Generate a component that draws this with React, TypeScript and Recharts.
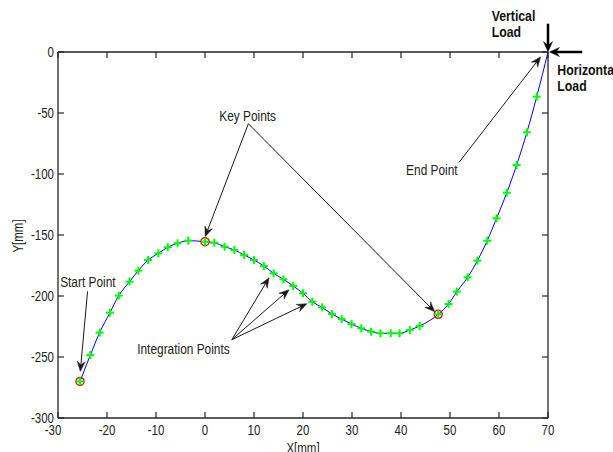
import React from "react";
import { ScatterChart, Scatter, XAxis, YAxis, ReferenceLine, ReferenceDot } from "recharts";

// curve nodes, in order along the beam (key points included)
const curveX = [
  -25.5, -23.4, -21.5, -19.4, -17.6, -15.4, -13.6, -11.6, -9.5, -7.6, -5.6, -3.4,
  0, 1.9, 4.0, 6.0, 8.0, 10.0, 12.0, 14.0, 16.0, 18.0, 20.0, 21.9, 23.9, 25.9,
  27.9, 29.9, 31.9, 33.9, 35.8, 37.9, 39.7, 41.8, 43.8, 47.6, 49.7, 51.4, 53.6,
  55.6, 57.6, 59.5, 61.6, 63.6, 65.7, 67.7, 70,
];
const curveY = [
  -270, -248.4, -230, -213.7, -199.7, -188.2, -179.2, -170.5, -165, -160, -156.8, -154.6,
  -155.5, -156.3, -159.6, -162.3, -166.4, -170.5, -175.4, -181.4, -186.3, -191.8, -197.8,
  -204.7, -209.3, -214.8, -218.9, -223, -226.5, -229.2, -230.6, -230.6, -230.6, -227.9,
  -224.6, -215, -206.6, -196.4, -184.7, -171, -154.7, -136.3, -115.3, -92.6, -65.8, -36.6, 0,
];
const keyX = [-25.5, 0, 47.6];
const keyY = [-270, -155.5, -215];

const xTicks = [-30, -20, -10, 0, 10, 20, 30, 40, 50, 60, 70];
const yTicks = [-300, -250, -200, -150, -100, -50, 0];

// annotation texts
const noteText = ["Key Points", "End Point", "Start Point", "Integration Points"];
const noteX = [8.7, 46.3, -23.9, -4.4];
const noteY = [-52.2, -96.5, -188.3, -243];

const loadText = ["Vertical", "Load", "Horizontal", "Load"];
const loadX = [58.5, 58.5, 71.9, 71.9];
const loadY = [29.8, 16.6, -14.5, -27.4];

// annotation arrows: [fromX, fromY, toX, toY]
const arrows = [
  [8.85, -58.8, 0.02, -151.4],
  [8.85, -58.8, 46.9, -212.9],
  [51.8, -90.7, 68.5, -3.9],
  [-23.97, -196.2, -25.45, -261.8],
  [5.47, -235.8, 13.07, -185],
  [5.47, -235.8, 17.15, -194.8],
  [5.47, -235.8, 20.8, -206.3],
];
const loadArrows = [
  [70, 23.2, 70, 0.3],
  [77, 0, 70.3, 0],
];

const curve = curveX.map((x, i) => ({ x, y: curveY[i] }));
const integ = curve.slice(0, -1);
const keys = keyX.map((x, i) => ({ x, y: keyY[i] }));

const AX = "#262626";
const FONT = "'Liberation Sans', Arial, sans-serif";
const SQ = 0.82; // horizontal squeeze, the figure's text is narrow

// text squeezed horizontally around its anchor
const NText = ({ x, y, anchor, size, bold, children, dy }: any) => (
  <text transform={`translate(${x},${y}) scale(${SQ},1)`} x={0} y={0} dy={dy}
    textAnchor={anchor} fontFamily={FONT} fontSize={size} fontWeight={bold ? "bold" : "normal"}
    fill={bold ? "#111" : "#222"}>
    {children}
  </text>
);

const Plus = (p: any) => (
  <g stroke="#00ff00" strokeWidth={2}>
    <line x1={p.cx - 4} y1={p.cy} x2={p.cx + 4} y2={p.cy} />
    <line x1={p.cx} y1={p.cy - 4} x2={p.cx} y2={p.cy + 4} />
  </g>
);

const Ring = (p: any) => (
  <circle cx={p.cx} cy={p.cy} r={4} fill="none" stroke="#ff0000" strokeWidth={1.5} />
);

const arrowShape = (w: number, len: number, half: number, color: string) => (p: any) => {
  const { x1, y1, x2, y2 } = p;
  const a = Math.atan2(y2 - y1, x2 - x1);
  const c = Math.cos(a), s = Math.sin(a);
  const bx = x2 - len * c, by = y2 - len * s;
  const mx = x2 - len * 0.65 * c, my = y2 - len * 0.65 * s;
  const pts = `${x2},${y2} ${bx - half * s},${by + half * c} ${mx},${my} ${bx + half * s},${by - half * c}`;
  return (
    <g>
      <line x1={x1} y1={y1} x2={mx} y2={my} stroke={color} strokeWidth={w} />
      <polygon points={pts} fill={color} stroke={color} strokeWidth={0.5} />
    </g>
  );
};

const BottomTick = ({ x, y, payload }: any) => (
  <g>
    <line x1={x} y1={y} x2={x} y2={y - 6} stroke={AX} strokeWidth={1.2} />
    <NText x={x + (payload.value === -30 ? -5 : 0)} y={y + 17} anchor="middle" size={14}>
      {payload.value}
    </NText>
  </g>
);
const TopTick = ({ x, y }: any) => (
  <line x1={x} y1={y} x2={x} y2={y + 6} stroke={AX} strokeWidth={1.2} />
);
const LeftTick = ({ x, y, payload }: any) => (
  <g>
    <line x1={x} y1={y} x2={x + 6} y2={y} stroke={AX} strokeWidth={1.2} />
    <NText x={x - 4} y={y + 5} anchor="end" size={14}>{payload.value}</NText>
  </g>
);
const RightTick = ({ x, y }: any) => (
  <line x1={x} y1={y} x2={x - 6} y2={y} stroke={AX} strokeWidth={1.2} />
);

const YLabel = (props: any) => {
  const vb = props.viewBox;
  const cx = vb.x + 18;
  const cy = vb.y + vb.height / 2 + 1;
  return (
    <text transform={`translate(${cx},${cy}) rotate(-90) scale(${SQ},1)`} x={0} y={0}
      textAnchor="middle" dy="0.35em" fontFamily={FONT} fontSize={14} fill="#222">Y[mm]</text>
  );
};
const XLabel = (props: any) => {
  const vb = props.viewBox;
  return (
    <NText x={vb.x + vb.width / 2} y={vb.y + 35} anchor="middle" size={14}>X[mm]</NText>
  );
};

export default function App() {
  return (
    <div style={{ position: "absolute", left: 0, top: 0, width: 613, height: 452, background: "#fff", overflow: "hidden" }}>
      <ScatterChart width={613} height={452} margin={{ top: 51, right: 64, left: 0, bottom: 0 }}>
        <XAxis type="number" dataKey="x" domain={[-30, 70]} ticks={xTicks} interval={0}
          tickSize={0} tickMargin={0} height={34} allowDataOverflow
          axisLine={{ stroke: AX, strokeWidth: 1.3 }} tick={BottomTick} label={XLabel} />
        <XAxis xAxisId="top" orientation="top" type="number" dataKey="x" domain={[-30, 70]}
          ticks={xTicks} interval={0} tickSize={0} tickMargin={0} height={1} allowDataOverflow
          axisLine={{ stroke: AX, strokeWidth: 1.3 }} tick={TopTick} />
        <YAxis type="number" dataKey="y" domain={[-300, 0]} ticks={yTicks} interval={0}
          tickSize={0} tickMargin={0} width={58} allowDataOverflow
          axisLine={{ stroke: AX, strokeWidth: 1.3 }} tick={LeftTick} label={YLabel} />
        <YAxis yAxisId="right" orientation="right" type="number" dataKey="y" domain={[-300, 0]}
          ticks={yTicks} interval={0} tickSize={0} tickMargin={0} width={1} allowDataOverflow
          axisLine={{ stroke: AX, strokeWidth: 1.3 }} tick={RightTick} />

        <Scatter data={curve} line={{ stroke: "#0000ff", strokeWidth: 1 }} lineJointType="monotoneX"
          shape={() => <g />} isAnimationActive={false} />
        <Scatter data={keys} shape={Ring} isAnimationActive={false} />
        <Scatter data={integ} shape={Plus} isAnimationActive={false} />
        <Scatter xAxisId="top" yAxisId="right" data={keys} shape={() => <g />} isAnimationActive={false} />

        {arrows.map((a, i) => (
          <ReferenceLine key={"a" + i} segment={[{ x: a[0], y: a[1] }, { x: a[2], y: a[3] }]}
            ifOverflow="visible" shape={arrowShape(1, 10, 4, "#1a1a1a")} />
        ))}
        {loadArrows.map((a, i) => (
          <ReferenceLine key={"l" + i} segment={[{ x: a[0], y: a[1] }, { x: a[2], y: a[3] }]}
            ifOverflow="visible" shape={arrowShape(2.5, 10, 4.5, "#000")} />
        ))}

        {noteText.map((t, i) => (
          <ReferenceDot key={"n" + i} x={noteX[i]} y={noteY[i]} r={0} ifOverflow="visible"
            shape={(p: any) => (
              <NText x={p.cx} y={p.cy} dy="0.35em" anchor="middle" size={14.5}>{t}</NText>
            )} />
        ))}
        {loadText.map((t, i) => (
          <ReferenceDot key={"t" + i} x={loadX[i]} y={loadY[i]} r={0} ifOverflow="visible"
            shape={(p: any) => (
              <NText x={p.cx} y={p.cy} dy="0.35em" anchor="start" size={15} bold>{t}</NText>
            )} />
        ))}
      </ScatterChart>
    </div>
  );
}
